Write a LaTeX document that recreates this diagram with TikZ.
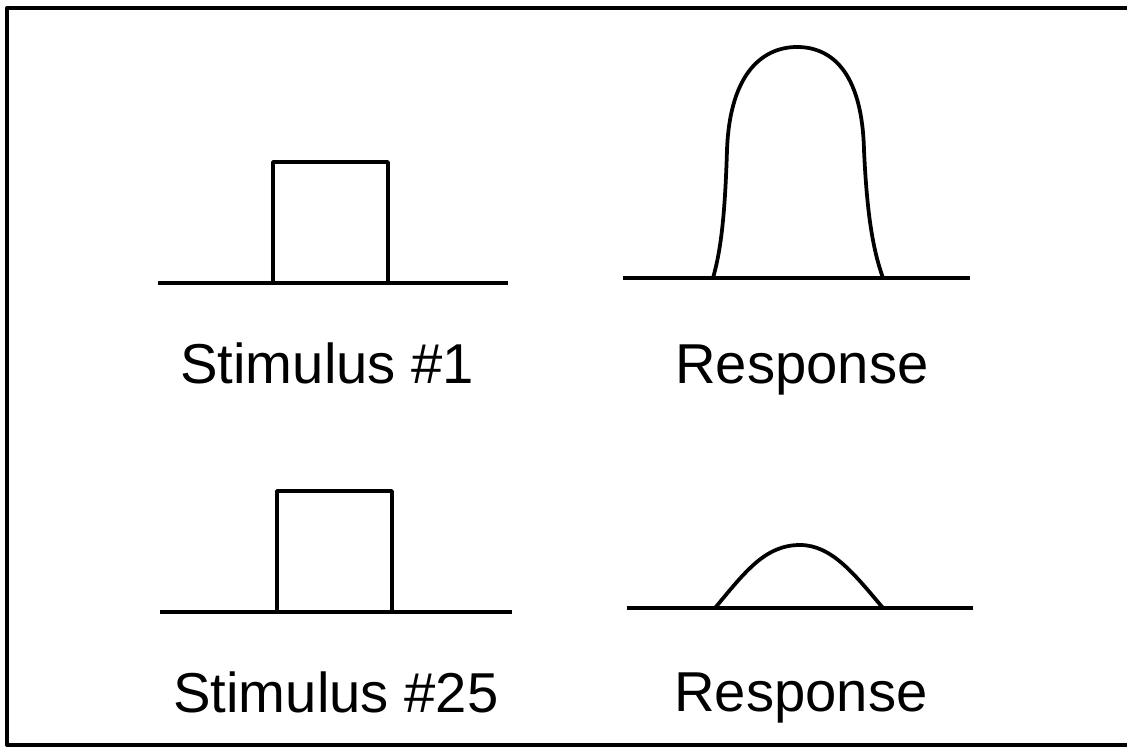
\documentclass[tikz,border=0pt]{standalone}
\usepackage{fontspec}
\setmainfont{Liberation Sans}
\usepackage{tikz}
\usetikzlibrary{positioning}

\begin{document}
\begin{tikzpicture}[x=0.02cm, y=-0.02cm, line join=round,
  trace/.style={line width=0.075cm},
  caption/.style={anchor=base west, inner sep=0pt, font=\fontsize{32}{36}\selectfont}]
  \useasboundingbox (0,0) rectangle (1127,756);
  %% frame (right side runs off the page)
  \draw[line width=0.08cm] (1140,8) -- (7,8) -- (7,745) -- (1140,745);
  %% stimulus #1
  \draw[trace] (158,283) -- (508,283);
  \draw[trace] (273,283) -- (273,162) -- (388,162) -- (388,283);
  \node[caption] (stimA) at (180,384) {Stimulus \#1};
  %% response #1
  \draw[trace] (623,278) -- (970,278);
  \draw[trace] (713,278) .. controls (721,250) and (725,215) .. (727,150)
    .. controls (730,70) and (765,47) .. (797,47)
    .. controls (830,47) and (862,70) .. (864,150)
    .. controls (867,215) and (873,250) .. (883,278);
  \node[caption] (respA) at (675,384) {Response};
  %% stimulus #25
  \draw[trace] (160,612) -- (512,612);
  \draw[trace] (277,612) -- (277,491) -- (392,491) -- (392,612);
  \node[caption] (stimB) at (173,713) {Stimulus \#25};
  %% response #25
  \draw[trace] (627,608) -- (973,608);
  \draw[trace] (715,608) .. controls (745,572) and (765,545) .. (800,545)
    .. controls (832,545) and (855,575) .. (883,608);
  \node[caption] (respB) at (674,712) {Response};
\end{tikzpicture}
\end{document}
